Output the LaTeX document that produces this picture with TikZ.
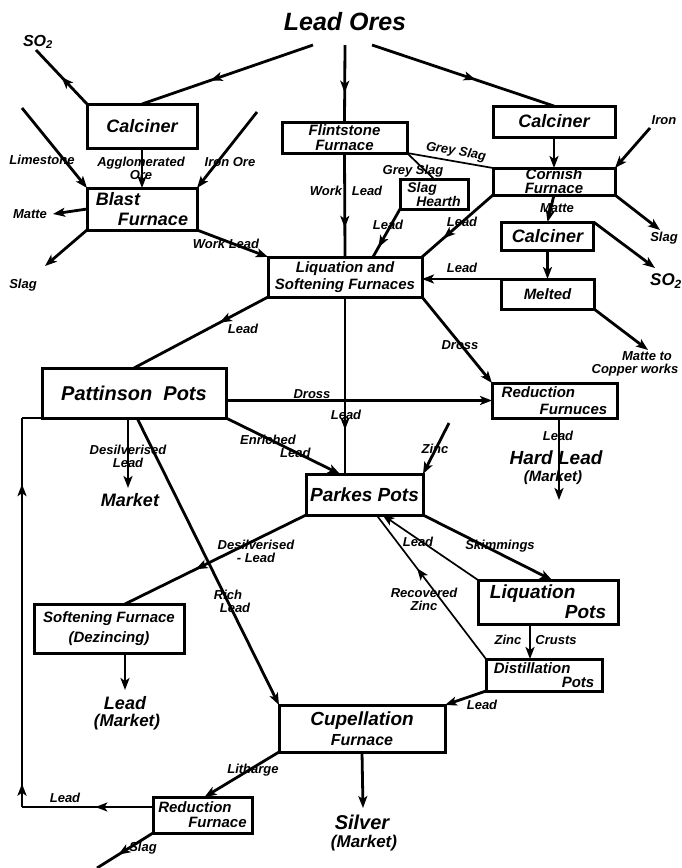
\documentclass[tikz,border=0pt]{standalone}
\usepackage{fontspec}
\setmainfont{Liberation Sans}
\usetikzlibrary{arrows.meta,decorations.markings,calc}
\newcommand\fsz[2]{\fontsize{#1}{#2}\selectfont\bfseries\itshape}
\tikzset{
  box/.style={draw, line width=3pt, rectangle, inner sep=0pt, outer sep=0pt, align=center},
  ln/.style={line width=2.8pt},
  thinln/.style={line width=1.7pt},
  tip/.style={-{Stealth[length=12pt,width=9pt,inset=3pt]}},
  midarrow/.style={postaction={decorate}, decoration={markings, mark=at position #1 with {\arrow{Stealth[length=12pt,width=9pt,inset=3pt]}}}},
  twoarrows/.style={postaction={decorate}, decoration={markings,
      mark=at position 0.06 with {\arrow{Stealth[length=12pt,width=9pt,inset=3pt]}},
      mark=at position 0.83 with {\arrow{Stealth[length=12pt,width=9pt,inset=3pt]}}}},
  lbl/.style={inner sep=0pt, align=center, font=\fsz{13}{13}},
  txt/.style={inner sep=0pt, align=center},
}
\begin{document}
\begin{tikzpicture}[x=1pt,y=-1pt]
\useasboundingbox (0,0) rectangle (681,868);

% ---------- title and boxes ----------
\node[txt, font=\fsz{25}{25}] (ores) at (345,22) {Lead Ores};

\node[box, minimum width=110pt, minimum height=44pt, font=\fsz{18}{20}] (calL) at (142,126) {Calciner};
\node[box, minimum width=110pt, minimum height=42pt, font=\fsz{18}{20}, align=left] (blast) at (142,209) {Blast\\\hspace*{22pt}Furnace};
\node[box, minimum width=125pt, minimum height=31pt, font=\fsz{15}{15}] (flint) at (344.5,137.5) {Flintstone\\Furnace};
\node[box, minimum width=68pt, minimum height=30pt, font=\fsz{14}{14}, align=left] (hearth) at (434,194) {Slag\\\hspace*{9pt}Hearth};
\node[box, minimum width=122pt, minimum height=31pt, font=\fsz{18}{20}] (calR) at (554,121.5) {Calciner};
\node[box, minimum width=122pt, minimum height=27pt, font=\fsz{15}{14}] (cornish) at (554,181.5) {Cornish\\Furnace};
\node[box, minimum width=92pt, minimum height=28pt, font=\fsz{18}{20}] (cal2) at (547.5,236) {Calciner};
\node[box, minimum width=93pt, minimum height=30pt, font=\fsz{15}{15}] (melted) at (547.5,294) {Melted};
\node[box, minimum width=154pt, minimum height=40pt, font=\fsz{15}{17}] (liq) at (345,277) {Liquation and\\Softening Furnaces};
\node[box, minimum width=184pt, minimum height=50pt, font=\fsz{20}{20}] (patt) at (134,393) {Pattinson\ \ Pots};
\node[box, minimum width=125pt, minimum height=35pt, font=\fsz{15}{17}, align=left] (redF) at (554.5,400.5) {Reduction\\\hspace*{38pt}Furnuces};
\node[box, minimum width=117pt, minimum height=41pt, font=\fsz{19}{20}] (parkes) at (364.5,494.5) {Parkes Pots};
\node[box, minimum width=150pt, minimum height=49pt, font=\fsz{15}{20}] (soft) at (109,628.5) {Softening Furnace\\(Dezincing)};
\node[box, minimum width=140pt, minimum height=44pt, font=\fsz{19}{20}, align=left] (liqPots) at (548,602) {Liquation\\\hspace*{75pt}Pots};
\node[box, minimum width=116pt, minimum height=32pt, font=\fsz{15}{14}, align=left] (dist) at (544,675) {Distillation\\\hspace*{68pt}Pots};
\node[box, minimum width=166pt, minimum height=47pt, font=\fsz{19}{20}] (cup) at (362,728.5) {Cupellation\\{\fsz{16}{20}Furnace}};
\node[box, minimum width=99pt, minimum height=36pt, font=\fsz{15}{15}, align=left] (redS) at (202.5,815) {Reduction\\\hspace*{30pt}Furnace};

% ---------- free-standing products ----------
\node[txt, font=\fsz{16}{16}] (so2L) at (38,42) {SO\textsubscript{2}};
\node[txt, font=\fsz{17}{17}] (so2R) at (666,281) {SO\textsubscript{2}};
\node[txt, font=\fsz{19}{19}] (hardlead) at (556,458) {Hard Lead};
\node[txt, font=\fsz{15}{15}] (hlmkt) at (553,478) {(Market)};
\node[txt, font=\fsz{18}{18}] (market) at (130,500) {Market};
\node[txt, font=\fsz{18}{18}] (leadmkt) at (125,703) {Lead};
\node[txt, font=\fsz{17}{17}] (leadmkt2) at (127,722) {(Market)};
\node[txt, font=\fsz{20}{20}] (silver) at (362,822) {Silver};
\node[txt, font=\fsz{17}{17}] (silmkt) at (364,843) {(Market)};

% ---------- free ends ----------
\coordinate (oL) at (313,45);
\coordinate (oM) at (345,45);
\coordinate (oR) at (372,45);
\coordinate (so2Lend) at (36,50);
\coordinate (limeS) at (22,108);
\coordinate (ironS) at (257,112);
\coordinate (matteE) at (53,214);
\coordinate (slagE) at (45,266);
\coordinate (ironR) at (650,128);
\coordinate (slagRE) at (660,230);
\coordinate (so2RE) at (655,268);
\coordinate (copperE) at (648,350);
\coordinate (hlE) at (559,500);
\coordinate (fbBot) at (22,807);
\coordinate (fbTop) at (22,418);
\coordinate (mktE) at (128,488);
\coordinate (zincS) at (449,423);
\coordinate (lmE) at (125,690);
\coordinate (silE) at (363,808);
\coordinate (slagSE) at (97,868);
\coordinate (zcTop) at ([xshift=-18pt]liqPots.south);

% ---------- connectors ----------
\draw[ln, midarrow=0.6] (oL) -- (calL.north);
\draw[ln, midarrow=0.62] (oM) -- (flint.north);
\draw[ln, midarrow=0.57] (oR) -- (calR.north);
\draw[ln, midarrow=0.5] (calL.north west) -- (so2Lend);
\draw[ln, tip] (limeS) -- (blast.north west);
\draw[ln, tip] (ironS) -- (blast.north east);
\draw[ln, tip] (calL.south) -- (blast.north);
\draw[ln, tip] (blast.west) -- (matteE);
\draw[ln, tip] (blast.south west) -- (slagE);
\draw[ln, tip] (blast.south east) -- (liq.north west);
\draw[ln, midarrow=0.72] (flint.south) -- (liq.north);
\draw[thinln] (flint.south east) -- (cornish.north west);
\draw[thinln] (flint.south east) -- (hearth.north);
\draw[ln, midarrow=0.8] (hearth.south west) -- ([xshift=28pt]liq.north);
\draw[ln, midarrow=0.7] (cornish.south west) -- (liq.north east);
\draw[ln, tip] (calR.south) -- (cornish.north);
\draw[ln, tip] (ironR) -- (cornish.north east);
\draw[ln, tip] (cornish.south) -- (cal2.north);
\draw[ln, tip] (cornish.south east) -- (slagRE);
\draw[ln, tip] (cal2.north east) -- (so2RE);
\draw[ln, tip] (cal2.south) -- (melted.north);
\draw[ln, tip] (melted.north west) -- (melted.north west -| liq.east);
\draw[ln, tip] (melted.south east) -- (copperE);
\draw[ln, midarrow=0.36] (liq.south west) -- (patt.north);
\draw[ln, midarrow=0.75] (liq.south) -- (parkes.north -| liq.south);
\draw[ln, tip] (liq.south east) -- (redF.north west);
\draw[ln, tip] (patt.east |- redF.west) -- (redF.west);
\draw[ln, tip] (redF.south -| hlE) -- (hlE);
\draw[ln, midarrow=0.44] ([yshift=8pt]redS.west) -- (fbBot);
\draw[ln, twoarrows] (fbBot) -- (fbTop);
\draw[ln] (fbTop) -- (patt.south west);
\draw[ln, tip] (patt.south -| mktE) -- (mktE);
\draw[ln, tip] ([xshift=3pt]patt.south) -- (cup.north west);
\draw[ln, tip] (patt.south east) -- ([xshift=-24.5pt]parkes.north);
\draw[ln, tip] (zincS) -- (parkes.north east);
\draw[ln, midarrow=0.61] (parkes.south west) -- ([xshift=16pt]soft.north);
\draw[ln, tip] (soft.south -| lmE) -- (lmE);
\draw[ln, tip] (parkes.south east) -- ([xshift=4pt]liqPots.north);
\draw[thinln, tip] (liqPots.north west) -- ([xshift=18pt]parkes.south);
\draw[thinln, midarrow=0.63] (dist.north west) -- ([xshift=12pt]parkes.south);
\draw[ln, tip] (zcTop) -- (zcTop |- dist.north);
\draw[ln, tip] (dist.south west) -- (cup.north east);
\draw[ln, tip] (cup.south) -- (silE);
\draw[ln, tip] (cup.south west) -- ([xshift=2pt]redS.north);
\draw[ln, midarrow=0.62] (redS.south west) -- (slagSE);

% ---------- labels ----------
\node[lbl] (lLime) at (42,160) {Limestone};
\node[lbl] (lIronOre) at (230,162) {Iron Ore};
\node[lbl] (lAgg) at (141,168) {Agglomerated\\Ore};
\node[lbl] (lMatte) at (30,214) {Matte};
\node[lbl] (lSlag) at (23,285) {Slag};
\node[lbl] (lWL1) at (226,244) {Work Lead};
\node[lbl] (lWork) at (326,191) {Work};
\node[lbl] (lLead1) at (367,191) {Lead};
\node[lbl, rotate=-10] (lGrey1) at (456,152) {Grey Slag};
\node[lbl] (lGrey2) at (413,171) {Grey Slag};
\node[lbl] (lLeadH) at (388,225) {Lead};
\node[lbl] (lLeadC) at (462,222) {Lead};
\node[lbl] (lIron) at (664,120) {Iron};
\node[lbl] (lMatteC) at (557,208) {Matte};
\node[lbl] (lSlagR) at (664,238) {Slag};
\node[lbl] (lLeadM) at (462,268) {Lead};
\node[lbl] (lCopper) at (635,364) {\hspace*{24pt}Matte to\\Copper works};
\node[lbl] (lLeadP) at (243,329) {Lead};
\node[lbl] (lLeadV) at (346,415) {Lead};
\node[lbl] (lDross1) at (460,345) {Dross};
\node[lbl] (lDross2) at (312,394) {Dross};
\node[lbl] (lLeadHL) at (558,436) {Lead};
\node[lbl] (lDesil1) at (128,456) {Desilverised\\Lead};
\node[lbl, anchor=west, align=left] (lEnr) at (240,446) {Enriched\\\hspace*{40pt}Lead};
\node[lbl] (lZinc) at (435,449) {Zinc};
\node[lbl] (lDesil2) at (256,551) {Desilverised\\- Lead};
\node[lbl] (lRich) at (228,601) {Rich\\\hspace*{14pt}Lead};
\node[lbl] (lLeadLP) at (418,542) {Lead};
\node[lbl] (lSkim) at (500,546) {Skimmings};
\node[lbl] (lRecov) at (424,599) {Recovered\\Zinc};
\node[lbl] (lZinc2) at (508,640) {Zinc};
\node[lbl] (lCrusts) at (556,640) {Crusts};
\node[lbl] (lLeadD) at (482,705) {Lead};
\node[lbl] (lLith) at (253,770) {Litharge};
\node[lbl] (lLeadR) at (65,798) {Lead};
\node[lbl] (lSlagS) at (143,848) {Slag};
\end{tikzpicture}
\end{document}
